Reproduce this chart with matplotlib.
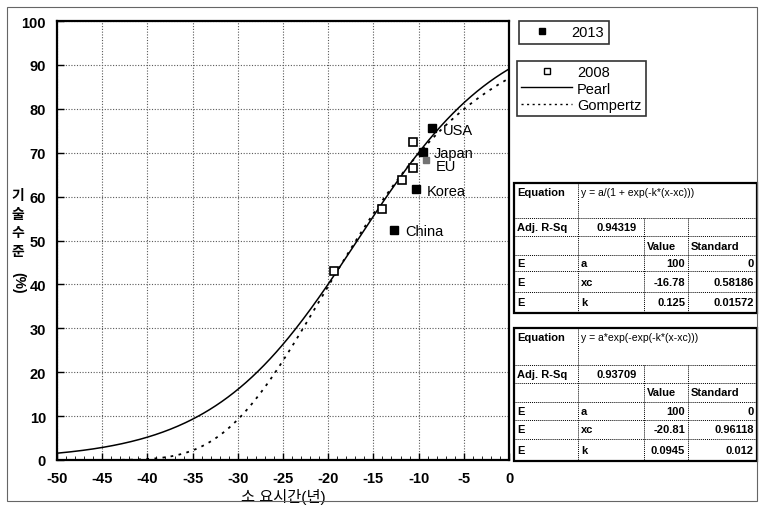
import numpy as np
import matplotlib.pyplot as plt
from matplotlib.lines import Line2D
from matplotlib.patches import Rectangle

plt.rcParams['font.family'] = ['Liberation Sans', 'Noto Sans CJK KR', 'DejaVu Sans']
plt.rcParams['axes.unicode_minus'] = False

# 2013 survey (years needed, technology level %)
c2013 = ['USA', 'Japan', 'Korea', 'China']
x2013 = [-8.5, -9.5, -10.3, -12.7]
y2013 = [75.6, 70.2, 61.7, 52.4]
eu_x, eu_y = [-9.2], [68.3]

# 2008 survey
x2008 = [-19.4, -14.0, -11.8, -10.6, -10.6]
y2008 = [43.0, 57.2, 63.8, 66.5, 72.4]

# fitted parameters (a, xc, k)
pearl = dict(eq='y = a/(1 + exp(-k*(x-xc)))', r2='0.94319',
             rows=[('E', 'a', '100', '0'), ('E', 'xc', '-16.78', '0.58186'),
                   ('E', 'k', '0.125', '0.01572')])
gomp = dict(eq='y = a*exp(-exp(-k*(x-xc)))', r2='0.93709',
            rows=[('E', 'a', '100', '0'), ('E', 'xc', '-20.81', '0.96118'),
                  ('E', 'k', '0.0945', '0.012')])

W, H = 762, 510
fig = plt.figure(figsize=(W / 100, H / 100), dpi=100)
ax = fig.add_axes([57 / W, 1 - 461 / H, (509 - 57) / W, (461 - 22) / H])

xs = np.linspace(-50, 0, 300)
a1, xc1, k1 = [float(r[2]) for r in pearl['rows']]
a2, xc2, k2 = [float(r[2]) for r in gomp['rows']]
ax.plot(xs, a1 / (1 + np.exp(-k1 * (xs - xc1))), 'k-', lw=1.1)
ax.plot(xs, a2 * np.exp(-np.exp(-k2 * (xs - xc2))), 'k', lw=1.3, dashes=(1.5, 3))

ax.plot(x2008, y2008, 's', ms=6, mfc='white', mec='black', mew=1.2)
ax.plot(x2013, y2013, 's', ms=6, color='black')
ax.plot(eu_x, eu_y, 's', ms=4.5, color='0.45')

for name, x, y in zip(c2013, x2013, y2013):
    ax.annotate(name, (x, y), xytext=(8, -1), textcoords='offset points',
                va='center', fontsize=10.5)
ax.annotate('EU', (eu_x[0], eu_y[0]), xytext=(7, -4), textcoords='offset points',
            va='center', fontsize=10.5)

ax.set_xlim(-50, 0)
ax.set_ylim(0, 100)
ax.set_xticks(np.arange(-50, 1, 5))
ax.set_xticks(np.arange(-50, 1, 1), minor=True)
ax.set_yticks(np.arange(0, 101, 10))
ax.tick_params(direction='in', length=5, labelsize=10.5, width=1)
ax.tick_params(axis='x', pad=8)
ax.tick_params(axis='y', pad=8)
ax.tick_params(which='minor', direction='in', length=3)
for lab in ax.get_xticklabels() + ax.get_yticklabels():
    lab.set_fontweight('bold')
ax.grid(True, ls=(0, (1, 1.5)), color='0.35', lw=0.8)
for s in ax.spines.values():
    s.set_linewidth(1.6)

ax.set_xlabel('소 요시간(년)', fontsize=11, labelpad=2)
fig.text(18 / W, 1 - 224 / H, '기\n술\n수\n준', ha='center', va='center',
         fontsize=10, linespacing=1.45, fontweight='bold')
fig.text(18 / W, 1 - 283 / H, '(%)', ha='center', va='center', rotation=-90,
         fontsize=10, fontweight='bold')

# legends
h13 = [Line2D([], [], marker='s', ls='none', color='black', ms=5)]
leg1 = fig.legend(h13, ['2013'], loc='upper left', bbox_to_anchor=(519 / W, 1 - 22 / H),
                  frameon=True, fancybox=False, fontsize=10.5, handlelength=2.5,
                  borderpad=0.3, handletextpad=0.8, borderaxespad=0)
h08 = [Line2D([], [], marker='s', ls='none', mfc='white', mec='black', ms=5),
       Line2D([], [], color='black', lw=1),
       Line2D([], [], color='black', lw=1, dashes=(1.5, 2.5))]
leg2 = fig.legend(h08, ['2008', 'Pearl', 'Gompertz'], loc='upper left',
                  bbox_to_anchor=(517 / W, 1 - 62 / H), frameon=True, fancybox=False,
                  fontsize=10.5, handlelength=3.5, borderpad=0.3, labelspacing=0.15,
                  handletextpad=0.3, borderaxespad=0)
for lg in (leg1, leg2):
    lg.get_frame().set_edgecolor('black')
    lg.get_frame().set_linewidth(1.2)


def fx(px):
    return px / W


def fy(py):
    return 1 - py / H


def hline(x0, x1, y, **kw):
    fig.add_artist(Line2D([fx(x0), fx(x1)], [fy(y), fy(y)], color='black', **kw))


def vline(x, y0, y1, **kw):
    fig.add_artist(Line2D([fx(x), fx(x)], [fy(y0), fy(y1)], color='black', **kw))


def draw_table(tab, rows_y):
    cols = [514, 578, 644, 688, 757]
    dot = dict(lw=0.7, ls=(0, (1, 1)))
    top, bot = rows_y[0], rows_y[-1]
    for y in rows_y[1:-1]:
        hline(cols[0], cols[-1], y, **dot)
    vline(cols[1], top, bot, **dot)
    for c in cols[2:4]:
        vline(c, rows_y[1], bot, **dot)
    fig.add_artist(Rectangle((fx(cols[0]), fy(bot)), fx(cols[-1] - cols[0]),
                             (bot - top) / H, fill=False, lw=1.6, ec='black'))
    kw = dict(fontsize=8, fontweight='bold', va='center')
    fig.text(fx(cols[0] + 3), fy(rows_y[0] + 9), 'Equation', **kw)
    fig.text(fx(cols[1] + 3), fy(rows_y[0] + 9), tab['eq'], fontsize=7.5, va='center')
    fig.text(fx(cols[0] + 3), fy((rows_y[1] + rows_y[2]) / 2), 'Adj. R-Sq', **kw)
    fig.text(fx(cols[2] - 7), fy((rows_y[1] + rows_y[2]) / 2), tab['r2'], ha='right', **kw)
    ym = fy((rows_y[2] + rows_y[3]) / 2)
    fig.text(fx(cols[2] + 3), ym, 'Value', **kw)
    fig.text(fx(cols[3] + 3), ym, 'Standard', **kw)
    for i, (e, p, v, sd) in enumerate(tab['rows']):
        ym = fy((rows_y[3 + i] + rows_y[4 + i]) / 2)
        fig.text(fx(cols[0] + 3), ym, e, **kw)
        fig.text(fx(cols[1] + 3), ym, p, **kw)
        fig.text(fx(cols[3] - 3), ym, v, ha='right', **kw)
        fig.text(fx(cols[4] - 3), ym, sd, ha='right', **kw)


draw_table(pearl, [184, 219, 237, 256, 272, 293, 314])
draw_table(gomp, [329, 366, 384, 403, 421, 440, 462])

# outer frame
fig.add_artist(Rectangle((fx(7), fy(502)), fx(750), 494 / H, fill=False,
                         lw=0.8, ec='0.4'))

fig.savefig('out.png', dpi=100)
